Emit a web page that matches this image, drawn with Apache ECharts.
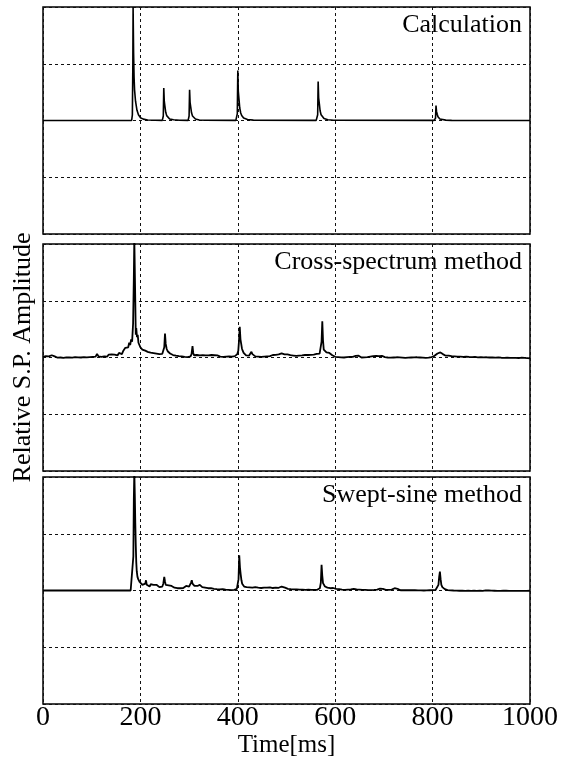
<!DOCTYPE html>
<html>
<head>
<meta charset="utf-8">
<script src="https://cdn.jsdelivr.net/npm/echarts@6/dist/echarts.min.js"></script>
<style>
html,body{margin:0;padding:0;background:#fff;}
#c{width:565px;height:767px;}
</style>
</head>
<body>
<div id="c"></div>
<script>
// ---- data (time in ms, relative amplitude) ----
const xTicks = [0, 200, 400, 600, 800, 1000];
const panelTitles = ["Calculation", "Cross-spectrum method", "Swept-sine method"];

const calculation = [
[0,0],[182,0],[183.5,0.05],[184.5,0.5],[185,1.0],[186,0.6],[187,0.38],[188,0.27],[190,0.17],[193,0.09],[196,0.05],[200,0.025],[206,0.012],[215,0.005],[230,0.002],
[245,0.001],[246,0.005],[247,0.04],[248,0.287],[249,0.17],[250.5,0.12],[252,0.072],[254,0.043],[256,0.029],[260,0.014],[268,0.006],[280,0.002],
[298,0.001],[299,0.005],[300,0.04],[301,0.27],[302,0.16],[303.5,0.113],[305,0.068],[307,0.04],[309,0.027],[313,0.013],[321,0.005],[333,0.002],
[396,0.001],[398,0.006],[399,0.06],[400,0.44],[401,0.26],[402.5,0.185],[404,0.11],[406,0.066],[408,0.044],[412,0.022],[420,0.009],[432,0.003],
[561,0.001],[563,0.005],[564,0.05],[565,0.343],[566,0.2],[567.5,0.144],[569,0.086],[571,0.051],[573,0.034],[577,0.017],[585,0.007],[597,0.002],
[803,0.001],[805,0.002],[806,0.02],[807,0.132],[808,0.08],[809.5,0.055],[811,0.033],[813,0.02],[815,0.013],[819,0.007],[827,0.003],[839,0.001],[1000,0]
];

const crossSpectrum = [
[0,0.005],[3,-0.005],[6,0.012],[9,0.0],[12,0.01],[15,-0.002],[18,0.02],[21,0.028],[24,0.01],[27,0.018],[30,-0.002],[33,0.012],[36,0.0],[39,0.014],[42,-0.004],[45,0.01],[48,0.002],[51,0.014],[54,0.0],[57,0.012],[60,-0.002],[63,0.014],[66,0.004],[69,0.018],[72,0.002],[75,0.014],[78,0.0],[81,0.016],[84,0.004],[87,0.016],[90,0.002],[93,0.018],[96,0.004],[99,0.016],[102,0.006],[105,0.02],[108,0.008],[111,0.032],[114,0.01],[117,0.022],[120,0.006],[123,0.02],[126,0.01],[129,0.024],[132,0.008],[135,0.026],[138,0.012],[141,0.028],[144,0.014],[147,0.026],[150,0.034],[153,0.018],[156,0.04],[159,0.05],[162,0.03],[165,0.06],[167,0.05],[169,0.085],[171,0.07],[173,0.1],[175,0.09],[177,0.13],[179,0.11],[181,0.16],[183,0.14],[185,0.3],[186.5,0.7],[187.5,1.05],[188.5,1.05],[189.5,0.5],[190.5,0.2],[191.5,0.26],[193,0.18],[194.5,0.2],[196,0.13],[198,0.12],[200,0.09],[202,0.1],[204,0.07],[206,0.075],[208,0.055],[210,0.06],[212,0.045],[215,0.05],[218,0.035],[221,0.042],[224,0.028],[227,0.038],[230,0.022],[233,0.034],[236,0.018],[239,0.03],[242,0.02],[245,0.032],[247,0.035],[249,0.09],[250.5,0.21],[252,0.12],[254,0.075],[256,0.055],[258,0.045],[261,0.035],[264,0.03],[267,0.022],[270,0.032],[273,0.016],[276,0.028],[279,0.012],[282,0.024],[285,0.01],[288,0.022],[291,0.006],[294,0.018],[297,0.004],[300,0.016],[303,0.01],[305,0.03],[307,0.1],[308.5,0.04],[310,0.02],[313,0.01],[316,0.022],[319,0.006],[322,0.018],[325,0.008],[328,0.02],[331,0.006],[334,0.018],[337,0.004],[340,0.018],[343,0.008],[346,0.022],[349,0.01],[352,0.02],[355,0.006],[358,0.018],[361,0.022],[364,0.008],[367,0.02],[370,0.006],[373,0.018],[376,0.008],[379,0.022],[382,0.01],[385,0.02],[388,0.008],[391,0.022],[394,0.012],[397,0.025],[399,0.03],[401,0.06],[402.5,0.15],[404,0.27],[405.5,0.16],[407,0.12],[408.5,0.08],[410,0.06],[412,0.04],[414,0.03],[417,0.018],[420,0.028],[423,0.016],[426,0.03],[428,0.05],[430,0.03],[433,0.016],[436,0.01],[439,0.024],[442,0.008],[445,0.02],[448,0.006],[451,0.018],[454,0.008],[457,0.022],[460,0.01],[463,0.024],[466,0.012],[469,0.008],[472,0.022],[475,0.01],[478,0.024],[481,0.014],[484,0.027],[487,0.03],[490,0.037],[493,0.044],[496,0.028],[499,0.018],[502,0.027],[505,0.01],[508,0.02],[511,0.006],[514,0.017],[517,0.004],[520,0.014],[523,0.002],[526,0.016],[529,0.006],[532,0.018],[535,0.008],[538,0.022],[541,0.01],[544,0.022],[547,0.012],[550,0.024],[553,0.014],[556,0.026],[559,0.016],[562,0.032],[565,0.022],[568,0.035],[570,0.05],[572,0.14],[573.5,0.32],[575,0.15],[576.5,0.07],[578,0.055],[580,0.06],[582,0.045],[584,0.05],[586,0.035],[588,0.04],[591,0.025],[594,0.02],[597,0.012],[600,0.006],[603,0.017],[606,0.004],[609,0.014],[612,0.002],[615,0.012],[618,0.0],[621,0.014],[624,0.004],[627,0.016],[630,0.006],[633,0.018],[636,0.006],[639,0.002],[642,0.014],[645,0.004],[648,0.016],[651,0.006],[654,0.0],[657,0.012],[660,0.002],[663,0.014],[666,0.004],[669,-0.004],[672,0.008],[675,-0.002],[678,0.012],[681,0.0],[684,0.014],[687,0.002],[690,0.012],[693,0.0],[696,0.014],[699,0.018],[702,0.004],[705,0.014],[708,0.0],[711,0.012],[714,-0.002],[717,0.01],[720,0.0],[723,0.012],[726,0.002],[729,0.014],[732,0.001],[735,0.012],[738,-0.001],[741,0.01],[744,-0.004],[747,0.008],[750,-0.002],[753,0.01],[756,0.0],[759,0.012],[762,0.001],[765,0.014],[768,0.002],[771,0.012],[774,0.0],[777,0.01],[780,-0.002],[783,0.008],[786,-0.004],[789,0.007],[792,-0.002],[795,0.01],[798,0.004],[801,0.014],[804,0.015],[807,0.025],[810,0.035],[812,0.05],[814,0.04],[816,0.045],[818,0.035],[821,0.03],[824,0.025],[827,0.016],[830,0.008],[833,0.017],[836,0.004],[839,0.012],[842,0.0],[845,0.01],[848,-0.002],[851,0.008],[854,-0.004],[857,0.007],[860,-0.006],[863,0.006],[866,-0.004],[869,0.008],[872,-0.006],[875,0.005],[878,-0.008],[881,0.004],[884,-0.007],[887,0.005],[890,-0.009],[893,0.002],[896,-0.008],[899,0.004],[902,-0.01],[905,0.001],[908,-0.01],[911,0.002],[914,-0.009],[917,0.0],[920,-0.011],[923,0.0],[926,-0.012],[929,-0.001],[932,-0.011],[935,0.0],[938,-0.012],[941,-0.002],[944,-0.014],[947,-0.003],[950,-0.013],[953,-0.002],[956,-0.014],[959,-0.004],[962,-0.015],[965,-0.004],[968,-0.014],[971,-0.003],[974,-0.015],[977,-0.005],[980,-0.014],[983,-0.002],[986,-0.014],[989,-0.004],[992,-0.016],[995,-0.005],[998,-0.014],[1000,-0.008]
];

const sweptSine = [
[0,0],[180,0],[184,0.0],[185.5,0.3],[186.5,0.8],[187.5,1.05],[188.5,0.85],[189.5,0.6],[190.5,0.4],[191.5,0.25],[192.5,0.17],[194,0.12],[195.5,0.1],[197,0.11],[198.5,0.075],[200,0.065],[202,0.07],[204,0.05],[206,0.055],[208,0.04],[210,0.06],[211.5,0.09],[213,0.05],[215,0.04],[217,0.05],[219,0.035],[221,0.055],[223,0.065],[225,0.04],[227,0.05],[229,0.035],[231,0.045],[233,0.05],[235,0.06],[237,0.04],[239,0.03],[241,0.04],[243,0.03],[245,0.035],[247,0.06],[249,0.12],[250.5,0.08],[252,0.05],[254,0.055],[256,0.04],[258,0.045],[261,0.035],[264,0.04],[267,0.03],[270,0.025],[273,0.035],[276,0.02],[279,0.03],[282,0.02],[285,0.028],[288,0.022],[291,0.035],[294,0.04],[297,0.03],[300,0.035],[302,0.05],[304,0.07],[305.5,0.09],[307,0.06],[309,0.045],[311,0.04],[313,0.05],[315,0.035],[317,0.04],[320,0.05],[322,0.05],[324,0.035],[327,0.03],[330,0.04],[333,0.025],[336,0.03],[339,0.02],[342,0.025],[345,0.02],[348,0.025],[351,0.015],[354,0.02],[357,0.012],[360,0.018],[363,0.01],[366,0.016],[369,0.012],[372,0.015],[375,0.008],[378,0.012],[381,0.006],[384,0.01],[387,0.004],[390,0.008],[393,0.006],[396,0.01],[398,0.015],[400,0.03],[401.5,0.1],[403,0.31],[404.5,0.2],[406,0.14],[407.5,0.09],[409,0.06],[411,0.05],[413,0.035],[415,0.04],[418,0.03],[421,0.035],[424,0.028],[427,0.035],[430,0.025],[433,0.032],[436,0.03],[439,0.035],[442,0.025],[445,0.03],[448,0.022],[451,0.03],[454,0.025],[457,0.032],[460,0.026],[463,0.034],[466,0.028],[469,0.03],[472,0.022],[475,0.03],[478,0.025],[481,0.03],[484,0.024],[487,0.03],[490,0.035],[492,0.042],[494,0.03],[497,0.025],[500,0.02],[503,0.015],[506,0.015],[509,0.012],[512,0.016],[515,0.01],[518,0.014],[521,0.01],[524,0.012],[527,0.008],[530,0.012],[533,0.008],[536,0.01],[539,0.006],[542,0.01],[545,0.007],[548,0.01],[551,0.006],[554,0.009],[557,0.005],[560,0.008],[563,0.006],[566,0.01],[568.5,0.02],[570.5,0.07],[572,0.226],[573.5,0.13],[575,0.065],[577,0.05],[579,0.035],[581,0.03],[584,0.025],[587,0.02],[590,0.02],[593,0.025],[596,0.022],[599,0.018],[602,0.015],[605,0.01],[608,0.012],[611,0.006],[614,0.008],[617,0.004],[620,0.006],[623,0.003],[626,0.008],[629,0.005],[632,0.01],[635,0.008],[638,0.014],[641,0.016],[644,0.01],[647,0.006],[650,0.008],[653,0.003],[656,0.006],[659,0.002],[662,0.005],[665,0.001],[668,0.003],[671,0.0],[674,0.004],[677,0.001],[680,0.005],[683,0.003],[686,0.008],[689,0.012],[692,0.016],[695,0.02],[698,0.014],[701,0.008],[704,0.006],[707,0.003],[710,0.005],[713,0.002],[716,0.008],[719,0.015],[722,0.02],[725,0.028],[728,0.015],[731,0.005],[734,0.002],[737,0.0],[740,0.003],[743,0.0],[746,0.002],[749,-0.001],[752,0.002],[755,0.0],[758,0.003],[761,0.0],[764,0.002],[767,-0.001],[770,0.001],[773,-0.002],[776,0.001],[779,-0.002],[782,0.0],[785,-0.002],[788,0.001],[791,-0.001],[794,0.002],[797,0.0],[800,0.003],[803,0.002],[806,0.005],[808,0.01],[810,0.02],[812,0.05],[813.5,0.12],[815,0.167],[816.5,0.1],[818,0.05],[820,0.03],[822,0.02],[825,0.012],[828,0.008],[831,0.004],[834,0.006],[837,0.002],[840,0.004],[843,0.0],[846,0.003],[849,-0.001],[852,0.002],[855,-0.002],[858,0.001],[861,-0.002],[864,0.0],[867,-0.003],[870,0.0],[873,-0.002],[876,0.001],[879,-0.003],[882,0.0],[885,-0.002],[888,0.001],[891,-0.003],[894,0.0],[897,-0.002],[900,0.001],[903,-0.003],[906,-0.001],[909,0.001],[912,-0.002],[915,0.0],[918,0.002],[921,-0.001],[924,0.001],[927,-0.002],[930,0.0],[933,-0.003],[936,-0.001],[939,-0.003],[942,0.0],[945,-0.002],[948,0.001],[951,-0.002],[954,0.0],[957,-0.003],[960,-0.001],[963,-0.003],[966,0.0],[969,-0.003],[972,-0.001],[975,-0.004],[978,-0.001],[981,-0.003],[984,0.0],[987,-0.003],[990,-0.001],[993,-0.003],[996,-0.001],[1000,-0.002]
];

const panelData = [calculation, crossSpectrum, sweptSine];

// ---- layout ----
const FONT = '"Liberation Serif", "Times New Roman", serif';
const gridTops = [7, 244, 477];
const gridH = 227;
const gridLeft = 43, gridRight = 35;

const dashed = { show: true, lineStyle: { color: '#111', width: 1, type: [3, 3] } };

const option = {
  animation: false,
  backgroundColor: '#fff',
  title: panelTitles.map((t, i) => ({
    text: t,
    right: 43,
    top: gridTops[i] + 5,
    padding: 0,
    textStyle: { fontFamily: FONT, fontSize: 26, fontWeight: 'normal', color: '#000' }
  })),
  grid: gridTops.map(t => ({
    left: gridLeft, right: gridRight, top: t, height: gridH,
    show: true, borderColor: '#000', borderWidth: 1.5, backgroundColor: 'transparent'
  })),
  xAxis: gridTops.map((t, i) => ({
    type: 'value', gridIndex: i, min: xTicks[0], max: xTicks[xTicks.length - 1], interval: 200,
    axisLine: { show: false }, axisTick: { show: false },
    axisLabel: i === 2 ? { show: true, margin: 0, fontFamily: FONT, fontSize: 28, color: '#000', formatter: v => String(v) } : { show: false },
    splitLine: dashed,
    name: i === 2 ? 'Time[ms]' : '',
    nameLocation: 'middle', nameGap: 28,
    nameTextStyle: { fontFamily: FONT, fontSize: 25, color: '#000' }
  })),
  yAxis: gridTops.map((t, i) => ({
    type: 'value', gridIndex: i, min: -1, max: 1, interval: 0.5,
    axisLine: { show: false }, axisTick: { show: false }, axisLabel: { show: false },
    splitLine: dashed,
    name: i === 1 ? 'Relative S.P. Amplitude' : '',
    nameLocation: 'middle', nameGap: 7,
    nameTextStyle: { fontFamily: FONT, fontSize: 26, color: '#000' }
  })),
  series: panelData.map((d, i) => ({
    type: 'line', xAxisIndex: i, yAxisIndex: i, data: d,
    showSymbol: false, symbol: 'none', clip: true, z: 5,
    lineStyle: { color: '#000', width: i === 0 ? 1.6 : 1.8 }
  }))
};

const chart = echarts.init(document.getElementById('c'), null, { renderer: 'canvas' });
chart.setOption(option);
</script>
</body>
</html>
